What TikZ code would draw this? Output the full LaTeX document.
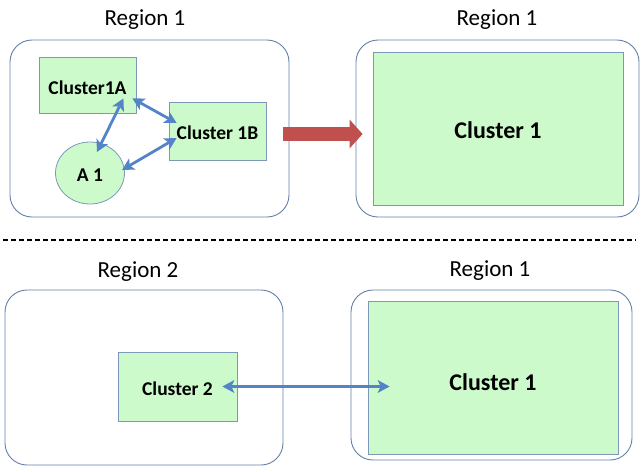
\documentclass[tikz,border=0pt]{standalone}
\usepackage{fontspec}
\setmainfont{Carlito}
\usetikzlibrary{arrows.meta,calc,shapes.geometric}
\definecolor{clgreen}{RGB}{204,250,202}
\definecolor{clborder}{RGB}{125,152,185}
\definecolor{regionblue}{RGB}{98,128,168}
\definecolor{linkblue}{RGB}{84,132,200}
\definecolor{arrowred}{RGB}{192,80,77}
\newcommand{\lowered}[2]{\raisebox{-#1pt}[\height][0pt]{#2}}
\tikzset{>={Stealth[length=12pt,width=13pt,inset=3pt,line width=0pt]},
  region/.style={draw=regionblue,line width=0.9pt,rounded corners=22pt,inner sep=0pt},
  cluster/.style={draw=clborder,fill=clgreen,line width=0.8pt,inner sep=0pt,
    font=\bfseries\fontsize{19.5}{22}\selectfont},
  bigcluster/.style={cluster,font=\bfseries\fontsize{24}{28}\selectfont},
  rlabel/.style={font=\fontsize{23}{27}\selectfont},
  link/.style={<->,draw=linkblue,line width=2.8pt},
  bigarrow/.style={draw=arrowred,line width=14pt,-{Triangle[length=13pt,width=29pt,line width=0pt]}},
  sep/.style={line width=1.3pt,dash pattern=on 5pt off 3pt}}

\begin{document}
\begin{tikzpicture}[x=1pt,y=-1pt]
\useasboundingbox (0,0) rectangle (641,472);
% upper half
\node[rlabel] (L1) at (145,20) {Region 1};
\node[rlabel] (L2) at (497,20) {Region 1};
\node[region,minimum width=279pt,minimum height=177pt] (R1) at (149.5,128.5) {};
\node[region,minimum width=283pt,minimum height=177pt] (R2) at (497.5,128.5) {};
\node[cluster,minimum width=97pt,minimum height=56pt] (C1A) at (87.5,85) {\lowered{3}{Cluster1A}};
\node[cluster,minimum width=97pt,minimum height=58pt] (C1B) at (217.5,131) {\lowered{2}{Cluster 1B}};
\node[cluster,ellipse,minimum width=69pt,minimum height=62pt] (A1) at (90,173) {\lowered{2}{A 1}};
\node[bigcluster,minimum width=250pt,minimum height=153pt] (CT) at (498,128.5) {\lowered{1.5}{Cluster 1}};
\draw[link] ($(C1A.south east)+(-13,-15)$) -- ($(A1.center)+(7,-21)$);
\draw[link] ($(C1A.south east)+(-4,-15)$) -- ($(C1B.west)+(8,-8)$);
\draw[link] ($(A1.center)+(32,-3)$) -- ($(C1B.west)+(8,7)$);
\draw[bigarrow] ($(R1.east)+(-6,5.5)$) -- ($(R2.west)+(7,5.5)$);
% separator
\draw[sep] (3,240) -- (636,240);
% lower half
\node[rlabel] (L3) at (138,272) {Region 2};
\node[rlabel] (L4) at (490,271) {Region 1};
\node[region,minimum width=278pt,minimum height=175pt] (R3) at (144,377.5) {};
\node[region,minimum width=281pt,minimum height=170pt] (R4) at (491.5,375) {};
\node[cluster,minimum width=119pt,minimum height=69pt] (C2) at (177.5,386.5) {\lowered{2.5}{Cluster 2}};
\node[bigcluster,minimum width=250pt,minimum height=153pt] (CB) at (493,377.5) {\lowered{4.5}{Cluster 1}};
\draw[link] ($(C2.east)+(-15,0)$) -- ($(C2.east -| CB.west)+(22,0)$);
\end{tikzpicture}
\end{document}
